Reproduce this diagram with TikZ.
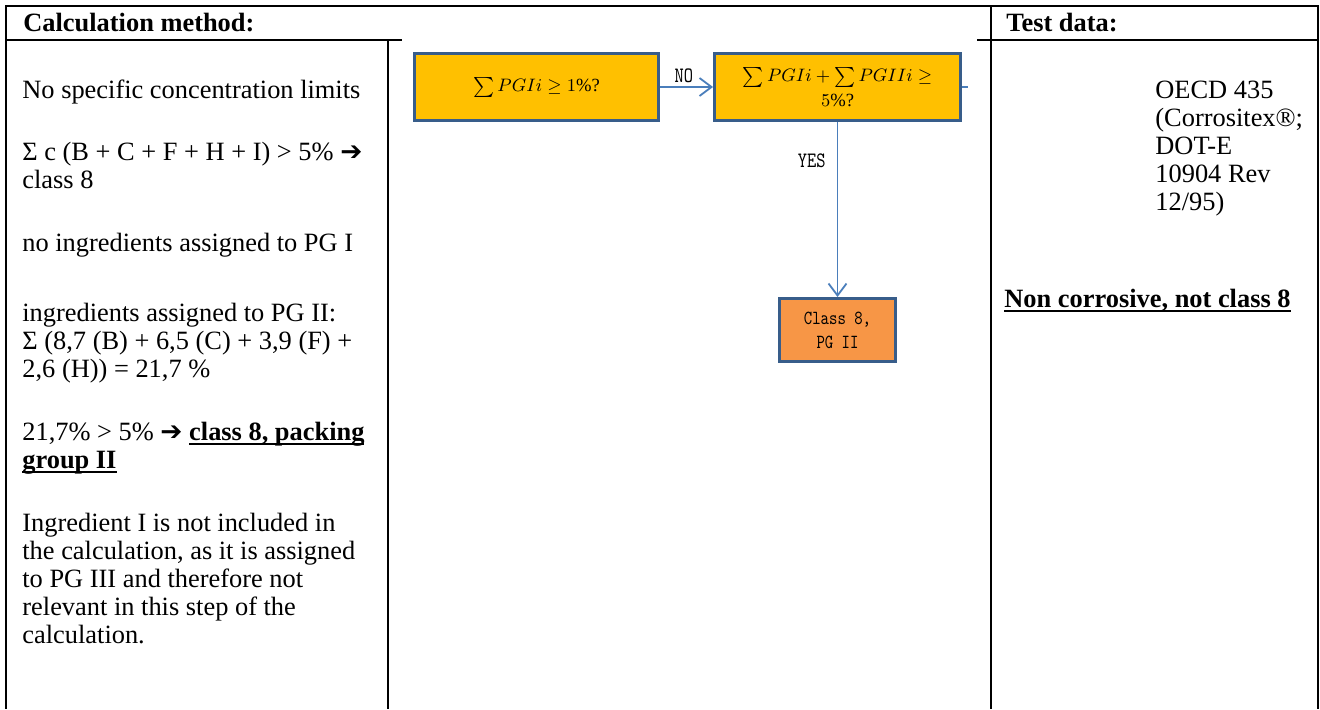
\documentclass[tikz,border=0pt]{standalone}
\usepackage{fontspec}
\setmainfont{Liberation Serif}
\newfontfamily\flowfont[FakeStretch=0.8]{lmmono10-regular.otf}
\newfontfamily\symfont{DejaVu Sans}
\usetikzlibrary{arrows.meta}
\definecolor{boxyellow}{RGB}{255,192,0}
\definecolor{boxorange}{RGB}{247,150,70}
\definecolor{boxedge}{RGB}{56,93,138}
\definecolor{flowblue}{RGB}{74,126,187}
\newcommand{\heavyarrow}{{\symfont ➔}}
% underline set close under the baseline
\newsavebox\ulinebox
\newcommand{\wul}[1]{\sbox\ulinebox{#1}\rlap{\rule[-2.4pt]{\wd\ulinebox}{0.9pt}}\usebox\ulinebox}
\begin{document}
\begin{tikzpicture}[x=0.5pt,y=-0.5pt,
  rule/.style={line width=1pt},
  body/.style={anchor=base west, inner sep=0pt, font=\fontsize{13.2}{14}\selectfont},
  head/.style={body, font=\fontsize{13.2}{14}\selectfont\bfseries},
  flowbox/.style={draw=boxedge, line width=1.5pt, inner sep=2pt, align=center,
    font=\fontsize{9.3}{11}\selectfont},
  flowlink/.style={draw=flowblue, line width=0.9pt},
  flowarrow/.style={flowlink, -{Straight Barb[length=6pt,width=9pt]}},
  flowlabel/.style={font=\flowfont\fontsize{11}{13}\selectfont, inner sep=1.5pt}
]
\useasboundingbox (0,0) rectangle (1320,709);

% table rules
\draw[rule] (5,6) -- (1319,6);
\draw[rule] (5,40) -- (402,40);
\draw[rule] (977,40) -- (1319,40);
\draw[rule] (6,5) -- (6,709);
\draw[rule] (388,40) -- (388,709);
\draw[rule] (991,6) -- (991,709);
\draw[rule] (1318,5) -- (1318,709);

% column headers
\node[head] (hcalc) at (23,31) {Calculation method:};
\node[head] (htest) at (1006,31) {Test data:};

% calculation method text
\node[body] (l1) at (22,98) {No specific concentration limits};
\node[body] (l2) at (22,160) {Σ c (B + C + F + H + I) > 5\% \heavyarrow};
\node[body] (l3) at (22,188) {class 8};
\node[body] (l4) at (22,251) {no ingredients assigned to PG I};
\node[body] (l5) at (22,321) {ingredients assigned to PG II:};
\node[body] (l6) at (22,349) {Σ (8,7 (B) + 6,5 (C) + 3,9 (F) +};
\node[body] (l7) at (22,377) {2,6 (H)) = 21,7 \%};
\node[body] (l8) at (22,440) {21,7\% > 5\% \heavyarrow\ \textbf{\wul{class 8, packing}}};
\node[body] (l9) at (22,468) {\textbf{\wul{group II}}};
\node[body] (l10) at (22,531) {Ingredient I is not included in};
\node[body] (l11) at (22,559) {the calculation, as it is assigned};
\node[body] (l12) at (22,587) {to PG III and therefore not};
\node[body] (l13) at (22,615) {relevant in this step of the};
\node[body] (l14) at (22,643) {calculation.};

% test data text
\node[body] (t1) at (1155,98) {OECD 435};
\node[body] (t2) at (1155,126) {(Corrositex®;};
\node[body] (t3) at (1155,154) {DOT-E};
\node[body] (t4) at (1155,182) {10904 Rev};
\node[body] (t5) at (1155,210) {12/95)};
\node[head] (t6) at (1004,307) {\wul{Non corrosive, not class 8}};

% decision flow
\node[flowbox, fill=boxyellow, minimum width=122pt, minimum height=33.5pt]
  (q1) at (536.5,87) {$\textstyle\sum PGIi \geq 1\%$?};
\node[flowbox, fill=boxyellow, minimum width=123pt, minimum height=33.5pt]
  (q2) at (837.5,87) {$\textstyle\sum PGIi + \sum PGIIi \geq$\\[1.5pt]$5\%$?};
\node[flowbox, fill=boxorange, minimum width=58pt, minimum height=31.5pt,
  font=\flowfont\fontsize{10}{12}\selectfont]
  (r1) at (837.5,330) {Class 8,\\PG II};
\coordinate (q2out) at (968,87);

\draw[flowarrow] (q1.east) -- (q2.west)
  node[flowlabel, pos=0.45, above] (lno) {NO};
\draw[flowarrow] (q2.south) -- (r1.north)
  node[flowlabel, pos=0.22, left=4pt] (lyes) {YES};
\draw[flowlink] (q2.east) -- (q2out);
\end{tikzpicture}
\end{document}
